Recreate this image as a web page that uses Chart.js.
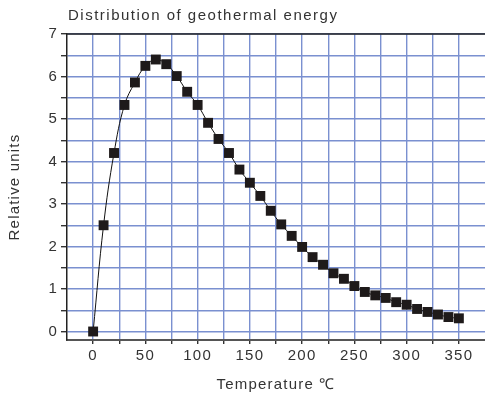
<!DOCTYPE html>
<html>
<head>
<meta charset="utf-8">
<script src="https://cdn.jsdelivr.net/npm/chart.js@4"></script>
<style>
  html, body { margin: 0; padding: 0; background: #fff; }
  #wrap { width: 485px; height: 398px; }
</style>
</head>
<body>
<div id="wrap"><canvas id="geoChart"></canvas></div>
<script>
const temperatures = [0, 10, 20, 30, 40, 50, 60, 70, 80, 90, 100, 110, 120, 130, 140, 150, 160, 170,
    180, 190, 200, 210, 220, 230, 240, 250, 260, 270, 280, 290, 300, 310, 320, 330, 340, 350];
const relativeUnits = [0, 2.5, 4.2, 5.33, 5.86, 6.25, 6.4, 6.29, 6.01, 5.64, 5.33, 4.91, 4.53, 4.2, 3.81, 3.5,
    3.19, 2.84, 2.52, 2.25, 1.99, 1.75, 1.57, 1.37, 1.24, 1.07, 0.93, 0.85, 0.79, 0.69, 0.63, 0.53, 0.46, 0.4, 0.34, 0.31];
const xTicks = [0, 25, 50, 75, 100, 125, 150, 175, 200, 225, 250, 275, 300, 325, 350];
const yTicks = [0, 0.5, 1, 1.5, 2, 2.5, 3, 3.5, 4, 4.5, 5, 5.5, 6, 6.5, 7];
const chartTitle = "Distribution of geothermal energy";

const fontFamily = "'Liberation Sans', Arial, sans-serif";
const textColor = "#333";
const gridColor = "#7a90d0";

document.addEventListener("DOMContentLoaded", () => {
    const ctx = document.getElementById("geoChart").getContext("2d");

    const extras = {
        id: "extras",
        beforeLayout(chart) { chart.ctx.letterSpacing = "1.2px"; },
        beforeDraw(chart) { chart.ctx.letterSpacing = "1.2px"; },
        beforeDatasetsDraw(chart) {
            // black frame line along the top of the plot
            const c = chart.ctx;
            const a = chart.chartArea;
            c.save();
            c.strokeStyle = "#222";
            c.lineWidth = 1.5;
            c.beginPath();
            c.moveTo(a.left, a.top);
            c.lineTo(a.right, a.top);
            c.stroke();
            c.restore();
        },
        afterDraw(chart) {
            const c = chart.ctx;
            c.save();
            c.letterSpacing = "1.5px";
            c.font = "15px " + fontFamily;
            c.fillStyle = textColor;
            c.textBaseline = "middle";
            c.textAlign = "left";
            c.fillText(chartTitle, chart.chartArea.left + 1, 16);
            c.restore();
        }
    };

    const data = {
        labels: temperatures,
        datasets: [
            {
                label: "Relative units",
                data: temperatures.map((t, i) => ({ x: t, y: relativeUnits[i] })),
                borderColor: "#111",
                borderWidth: 1,
                backgroundColor: "#1e1a1a",
                pointStyle: "rect",
                pointRadius: 7,
                pointHoverRadius: 7,
                pointBorderWidth: 0,
                tension: 0.4,
                clip: false
            }
        ]
    };

    const options = {
        responsive: true,
        maintainAspectRatio: false,
        animation: false,
        layout: { autoPadding: false, padding: { top: 34, right: 0, bottom: 0, left: 0 } },
        plugins: {
            legend: { display: false },
            tooltip: { enabled: false }
        },
        scales: {
            x: {
                type: "linear",
                min: -25,
                max: 375,
                afterBuildTicks: (axis) => { axis.ticks = xTicks.map(v => ({ value: v })); },
                afterFit: (axis) => { axis.height = 58; },
                ticks: {
                    color: textColor,
                    font: { size: 15, family: fontFamily },
                    padding: 3,
                    maxRotation: 0,
                    autoSkip: false,
                    callback: (v) => (v % 50 === 0 ? v : "")
                },
                grid: {
                    color: gridColor,
                    lineWidth: 1.4,
                    tickLength: 4,
                    tickColor: "#333"
                },
                border: { color: "#555", width: 2 },
                title: {
                    display: true,
                    text: "Temperature ℃",
                    color: textColor,
                    font: { size: 15, family: fontFamily },
                    padding: { top: 0, bottom: 4 }
                }
            },
            y: {
                min: -0.2,
                max: 7,
                afterBuildTicks: (axis) => { axis.ticks = yTicks.map(v => ({ value: v })); },
                afterFit: (axis) => { axis.width = 67; },
                ticks: {
                    color: textColor,
                    font: { size: 15, family: fontFamily },
                    padding: 3,
                    autoSkip: false,
                    callback: (v) => (Number.isInteger(v) ? v : "")
                },
                grid: {
                    color: gridColor,
                    lineWidth: 1.4,
                    tickLength: 6,
                    tickColor: "#333"
                },
                border: { color: "#222", width: 1.5 },
                title: {
                    display: true,
                    text: "Relative units",
                    color: textColor,
                    font: { size: 15, family: fontFamily },
                    padding: { top: 6, bottom: 0 }
                }
            }
        }
    };

    new Chart(ctx, {
        type: "line",
        data: data,
        options: options,
        plugins: [extras]
    });
});
</script>
</body>
</html>
